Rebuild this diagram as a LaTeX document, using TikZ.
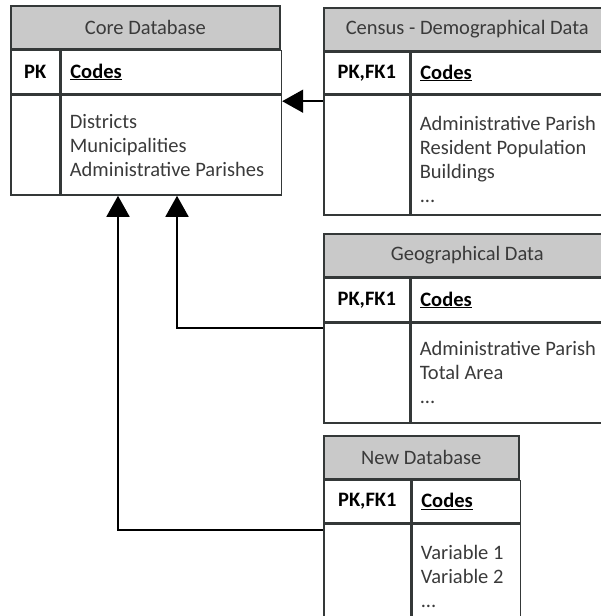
\documentclass[tikz,border=0pt]{standalone}
\usepackage{fontspec}
\setmainfont{Carlito}
\usetikzlibrary{arrows.meta,positioning}
\definecolor{headgray}{RGB}{201,201,201}
\definecolor{linegray}{RGB}{52,56,56}
\definecolor{textgray}{RGB}{58,58,58}

\begin{document}
\begin{tikzpicture}[x=1pt,y=1pt,
  every node/.style={font=\fontsize{20.5}{24}\selectfont},
  cell/.style={draw=linegray,line width=1.6pt,anchor=north west,inner sep=0pt},
  headcell/.style={cell,fill=headgray,text=textgray,minimum height=43},
  keycell/.style={cell,font=\fontsize{20.5}{24}\selectfont\bfseries,text=black},
  codecell/.style={cell,font=\fontsize{20.5}{24}\selectfont\bfseries,text=black,inner xsep=9pt,align=left},
  fields/.style={anchor=north west,align=left,inner sep=0pt,text=textgray},
  fk/.style={draw=black,line width=1.8pt,-{Triangle[length=21pt,width=23pt]}}]

  \useasboundingbox (0,0) rectangle (601,-616);
  \clip (0,0) rectangle (601,-616);

  % Core Database
  \node[headcell,minimum width=269] (core-head) at (10,-5) {Core Database};
  \node[keycell,minimum width=49,minimum height=43] (core-key) at (core-head.south west) {PK};
  \node[codecell,text width=202,minimum height=43] (core-codes) at (core-key.north east) {\underline{Codes}};
  \node[cell,minimum width=49,minimum height=100] (core-bodykey) at (core-key.south west) {};
  \node[cell,minimum width=220,minimum height=100] (core-body) at (core-codes.south west) {};
  \node[fields] (core-fields) at ([shift={(9,-20)}]core-body.north west) {Districts\\Municipalities\\Administrative Parishes};

  % Census - Demographical Data
  \node[headcell,minimum width=287] (census-head) at (323,-7) {Census - Demographical Data};
  \node[keycell,minimum width=86,minimum height=41] (census-key) at (census-head.south west) {PK,FK1};
  \node[codecell,text width=183,minimum height=41] (census-codes) at (census-key.north east) {\underline{Codes}};
  \node[cell,minimum width=86,minimum height=120] (census-bodykey) at (census-key.south west) {};
  \node[cell,minimum width=201,minimum height=120] (census-body) at (census-codes.south west) {};
  \node[fields] (census-fields) at ([shift={(9,-22)}]census-body.north west) {Administrative Parish\\Resident Population\\Buildings\\...};

  % Geographical Data
  \node[headcell,minimum width=287] (geo-head) at (323,-233) {Geographical Data};
  \node[keycell,minimum width=86,minimum height=43] (geo-key) at (geo-head.south west) {PK,FK1};
  \node[codecell,text width=183,minimum height=43] (geo-codes) at (geo-key.north east) {\underline{Codes}};
  \node[cell,minimum width=86,minimum height=100] (geo-bodykey) at (geo-key.south west) {};
  \node[cell,minimum width=201,minimum height=100] (geo-body) at (geo-codes.south west) {};
  \node[fields] (geo-fields) at ([shift={(9,-19)}]geo-body.north west) {Administrative Parish\\Total Area\\...};

  % New Database
  \node[headcell,minimum width=195] (new-head) at (323,-435) {New Database};
  \node[keycell,minimum width=87,minimum height=42] (new-key) at (new-head.south west) {PK,FK1};
  \node[codecell,text width=90,minimum height=42] (new-codes) at (new-key.north east) {\underline{Codes}};
  \node[cell,minimum width=87,minimum height=150] (new-bodykey) at (new-key.south west) {};
  \node[cell,minimum width=108,minimum height=150] (new-body) at (new-codes.south west) {};
  \node[fields] (new-fields) at ([shift={(9,-22)}]new-body.north west) {Variable 1\\Variable 2\\...};

  % Links
  \coordinate (census-link) at ([yshift=-7]census-bodykey.north west);
  \coordinate (geo-link) at ([yshift=-6]geo-bodykey.north west);
  \coordinate (new-link) at ([yshift=-7]new-bodykey.north west);
  \coordinate (core-in1) at ([xshift=108]core-bodykey.south west);
  \coordinate (core-in2) at ([xshift=167]core-bodykey.south west);
  \draw[fk] (census-link) -- (census-link -| core-body.east);
  \draw[fk] (geo-link) -| (core-in2);
  \draw[fk] (new-link) -| (core-in1);

\end{tikzpicture}
\end{document}
